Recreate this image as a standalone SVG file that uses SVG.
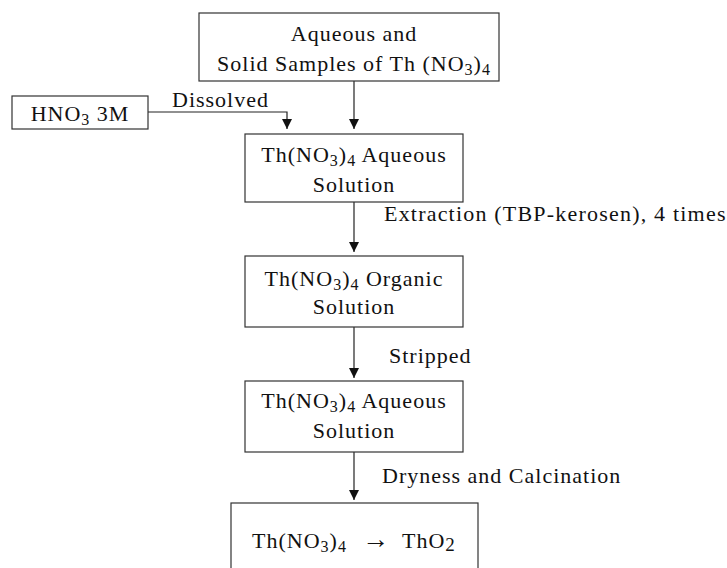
<svg xmlns="http://www.w3.org/2000/svg" width="727" height="568" viewBox="0 0 727 568">
<style>
.box{fill:#fff;stroke:#333;stroke-width:1.2}
.ln{fill:none;stroke:#222;stroke-width:1.2}
text{font-size:22px;fill:#111;letter-spacing:1px}
.c{text-anchor:middle}
.sub{font-size:16px}
</style>
<defs>
<marker id="ah" viewBox="0 0 10 10" refX="10" refY="5" markerWidth="10" markerHeight="10" markerUnits="userSpaceOnUse" orient="auto">
<path d="M0,0 L10,5 L0,10 Z" fill="#111"/>
</marker>
</defs>
<rect width="727" height="568" fill="#fff"/>
<g font-family="'Liberation Serif', 'Times New Roman', 'DejaVu Serif', serif">
<g id="connectors">
<line class="ln" x1="354" y1="81" x2="354" y2="129" marker-end="url(#ah)"/>
<polyline class="ln" points="148,112 287,112 287,129" marker-end="url(#ah)"/>
<line class="ln" x1="354" y1="202" x2="354" y2="252" marker-end="url(#ah)"/>
<line class="ln" x1="354" y1="327" x2="354" y2="378" marker-end="url(#ah)"/>
<line class="ln" x1="354" y1="452" x2="354" y2="500" marker-end="url(#ah)"/>
<text x="172" y="107">Dissolved</text>
<text x="384" y="221" style="letter-spacing:1.2px">Extraction (TBP-kerosen), 4 times</text>
<text x="389" y="363">Stripped</text>
<text x="382" y="483">Dryness and Calcination</text>
</g>
<g id="n1">
<rect class="box" x="199" y="13" width="300" height="68"/>
<text class="c" x="354" y="41">Aqueous and</text>
<text class="c" x="354" y="71">Solid Samples of Th (NO<tspan class="sub" dy="4">3</tspan><tspan dy="-4">)</tspan><tspan class="sub" dy="4">4</tspan></text>
</g>
<g id="hno3">
<rect class="box" x="12" y="96" width="136" height="33"/>
<text class="c" x="80" y="121">HNO<tspan class="sub" dy="4">3</tspan><tspan dy="-4"> 3M</tspan></text>
</g>
<g id="n2">
<rect class="box" x="245" y="134" width="218" height="68"/>
<text class="c" x="354" y="162">Th(NO<tspan class="sub" dy="4">3</tspan><tspan dy="-4">)</tspan><tspan class="sub" dy="4">4</tspan><tspan dy="-4"> Aqueous</tspan></text>
<text class="c" x="354" y="192">Solution</text>
</g>
<g id="n3">
<rect class="box" x="245" y="256" width="218" height="71"/>
<text class="c" x="354" y="286">Th(NO<tspan class="sub" dy="4">3</tspan><tspan dy="-4">)</tspan><tspan class="sub" dy="4">4</tspan><tspan dy="-4"> Organic</tspan></text>
<text class="c" x="354" y="314">Solution</text>
</g>
<g id="n4">
<rect class="box" x="245" y="381" width="218" height="71"/>
<text class="c" x="354" y="408">Th(NO<tspan class="sub" dy="4">3</tspan><tspan dy="-4">)</tspan><tspan class="sub" dy="4">4</tspan><tspan dy="-4"> Aqueous</tspan></text>
<text class="c" x="354" y="438">Solution</text>
</g>
<g id="n5">
<rect class="box" x="231" y="503" width="247" height="80"/>
<text x="252" y="548">Th(NO<tspan class="sub" dy="4">3</tspan><tspan dy="-4">)</tspan><tspan class="sub" dy="4">4</tspan></text>
<text x="362" y="548" style="font-size:27px;letter-spacing:0">→</text>
<text x="402" y="548">ThO<tspan class="sub" dy="3" style="font-size:19px">2</tspan></text>
</g>
</g>
</svg>
